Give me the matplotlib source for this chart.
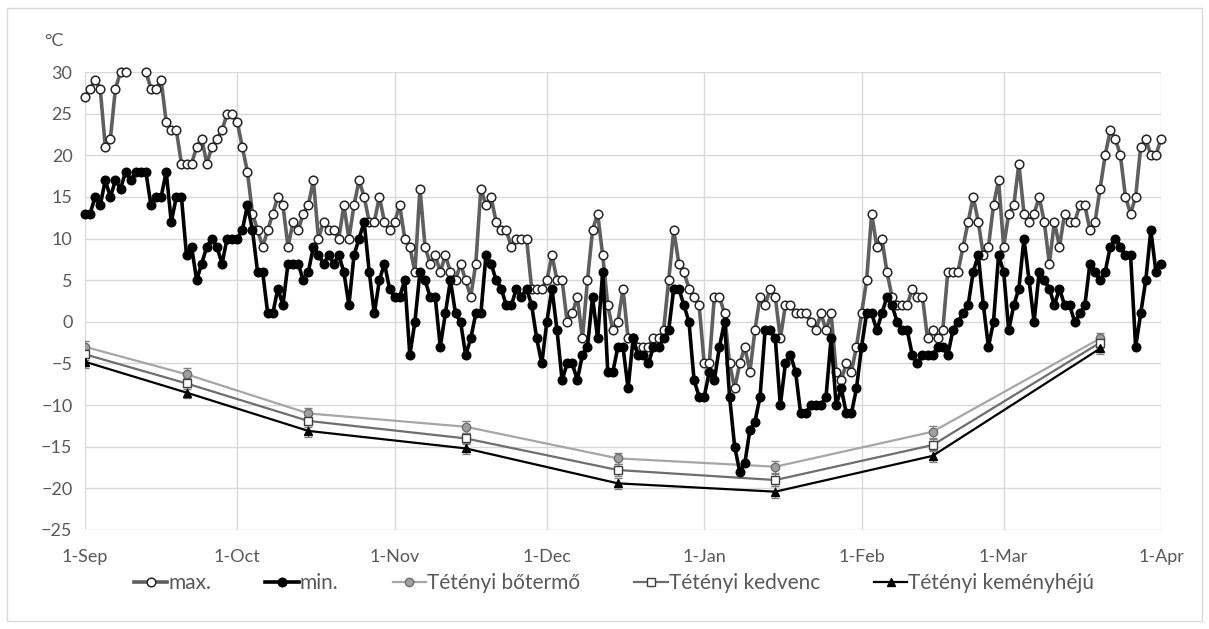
import numpy as np
import pandas as pd
import matplotlib
matplotlib.use("Agg")
import matplotlib.pyplot as plt
import matplotlib.dates as mdates
from matplotlib.lines import Line2D
from matplotlib.patches import Rectangle

nan = np.nan

days = pd.date_range("2018-09-01", "2019-04-01", freq="D")

# daily maximum temperature (degC), 1-Sep .. 1-Apr
t_max = [
    27, 28, 29, 28, 21, 22, 28, 30, 30, nan, nan, nan, 30, 28, 28, 29, 24, 23, 23, 19,
    19, 19, 21, 22, 19, 21, 22, 23, 25, 25, 24, 21, 18, 13, 11, 9, 11, 13, 15, 14,
    9, 12, 11, 13, 14, 17, 10, 12, 11, 11, 10, 14, 10, 14, 17, 15, 12, 12, 15, 12,
    11, 12, 14, 10, 9, 6, 16, 9, 7, 8, 6, 8, 6, 5, 7, 5, 3, 7, 16, 14,
    15, 12, 11, 11, 9, 10, 10, 10, 4, 4, 4, 5, 8, 5, 5, 0, 1, 3, -2, 5,
    11, 13, 8, 2, -1, 0, 4, -2, -2, -3, -3, -3, -2, -2, -1, 5, 11, 7, 6, 4,
    3, 2, -5, -5, 3, 3, 1, -5, -8, -5, -3, -6, -1, 3, 2, 4, 3, -2, 2, 2,
    1, 1, 1, 0, -1, 1, -1, 1, -6, -7, -5, -6, -3, 1, 5, 13, 9, 10, 6, 3,
    2, 2, 2, 4, 3, 3, -2, -1, -2, -1, 6, 6, 6, 9, 12, 15, 12, 8, 9, 14,
    17, 9, 13, 14, 19, 13, 12, 13, 15, 12, 7, 12, 9, 13, 12, 12, 14, 14, 11, 12,
    16, 20, 23, 22, 20, 15, 13, 15, 21, 22, 20, 20, 22,
]

# daily minimum temperature (degC)
t_min = [
    13, 13, 15, 14, 17, 15, 17, 16, 18, 17, 18, 18, 18, 14, 15, 15, 18, 12, 15, 15,
    8, 9, 5, 7, 9, 10, 9, 7, 10, 10, 10, 11, 14, 11, 6, 6, 1, 1, 4, 2,
    7, 7, 7, 5, 6, 9, 8, 7, 8, 7, 8, 6, 2, 8, 10, 12, 6, 1, 5, 7,
    4, 3, 3, 5, -4, 0, 6, 5, 3, 3, -3, 1, 5, 1, 0, -4, -2, 1, 1, 8,
    7, 5, 4, 2, 2, 4, 3, 4, 2, -2, -5, 0, 4, -1, -7, -5, -5, -7, -4, -3,
    3, -2, 6, -6, -6, -3, -3, -8, -2, -4, -4, -5, -3, -3, -2, -1, 4, 4, 2, 0,
    -7, -9, -9, -6, -7, -3, 0, -9, -15, -18, -17, -13, -12, -9, -1, -1, -2, -10, -5, -4,
    -6, -11, -11, -10, -10, -10, -9, -2, -10, -8, -11, -11, -8, -3, 1, 1, -1, 1, 3, 2,
    0, -1, -1, -4, -5, -4, -4, -4, -3, -3, -4, -1, 0, 1, 2, 6, 8, 2, -3, 0,
    8, 6, -1, 2, 4, 10, 5, 0, 6, 5, 4, 2, 4, 2, 2, 0, 1, 2, 7, 6,
    5, 6, 9, 10, 9, 8, 8, -3, 1, 5, 11, 6, 7,
]

# frost tolerance measurements of the three cultivars
sample_dates = pd.to_datetime([
    "2018-09-01", "2018-09-21", "2018-10-15", "2018-11-15",
    "2018-12-15", "2019-01-15", "2019-02-15", "2019-03-20",
])
botermo = [-3, -6.3, -11, -12.6, -16.4, -17.4, -13.2, -2]
kedvenc = [-3.9, -7.4, -11.9, -14, -17.8, -19, -14.8, -2.5]
kemenyheju = [-4.8, -8.5, -13.1, -15.2, -19.4, -20.4, -16.1, -3.2]
err = [0.7, 0.7, 0.7, 0.7, 0.7, 0.7, 0.7, 0.7]

plt.rcParams["font.family"] = ["Lato", "DejaVu Sans"]
fig = plt.figure(figsize=(12.09, 6.29), dpi=100)
ax = fig.add_axes([0.0703, 0.1574, 0.8900, 0.7281])

style_max = dict(color="#5f5f5f", lw=2.6, marker="o", ms=6.2,
                 mfc="white", mec="#262626", mew=1.1)
style_min = dict(color="black", lw=2.6, marker="o", ms=6.2, mfc="black", mec="black")
style_bo = dict(color="#a6a6a6", lw=1.6, marker="o", ms=6, mfc="#a0a0a0",
                mec="#6e6e6e", mew=1)
style_ke = dict(color="#6e6e6e", lw=1.6, marker="s", ms=6, mfc="white",
                mec="#404040", mew=1)
style_km = dict(color="black", lw=1.6, marker="^", ms=6, mfc="black", mec="black")

ax.plot(days, t_max, zorder=4, clip_on=False, **style_max)
ax.plot(days, t_min, zorder=5, clip_on=False, **style_min)

eb = dict(ecolor="#7f7f7f", elinewidth=0.9, capsize=3, capthick=0.9, zorder=3)
ax.errorbar(sample_dates, botermo, yerr=err, **eb, **style_bo)
ax.errorbar(sample_dates, kedvenc, yerr=err, **eb, **style_ke)
ax.errorbar(sample_dates, kemenyheju, yerr=err, **eb, **style_km)

ax.set_ylim(-25, 30)
ax.set_yticks(np.arange(-25, 31, 5))
ax.set_xlim(days[0], days[-1])
ax.xaxis.set_major_locator(mdates.MonthLocator())
ax.xaxis.set_major_formatter(
    matplotlib.ticker.FuncFormatter(lambda v, p: "1-" + mdates.num2date(v).strftime("%b")))

ax.grid(True, color="#d9d9d9", lw=1)
ax.set_axisbelow(True)
for s in ax.spines.values():
    s.set_visible(False)
ax.tick_params(axis="both", length=0, labelsize=13, colors="#595959")
ax.tick_params(axis="x", pad=14)
ax.tick_params(axis="y", pad=9)

fig.text(0.037, 0.935, "°C", fontsize=13, color="#595959", ha="left", va="center")

handles = [
    Line2D([], [], **style_max),
    Line2D([], [], **style_min),
    Line2D([], [], **style_bo),
    Line2D([], [], **style_ke),
    Line2D([], [], **style_km),
]
labels = ["max.", "min.", "Tétényi bőtermő", "Tétényi kedvenc", "Tétényi keményhéjú"]
fig.legend(handles, labels, loc="center", bbox_to_anchor=(0.508, 0.073), ncol=5,
           frameon=False, fontsize=15, labelcolor="#595959", handlelength=1.6,
           handletextpad=0.05, columnspacing=2.6)

fig.add_artist(Rectangle((0.006, 0.012), 0.988, 0.976, transform=fig.transFigure,
                         fill=False, ec="#d9d9d9", lw=1))

fig.savefig("out.png", dpi=100)
